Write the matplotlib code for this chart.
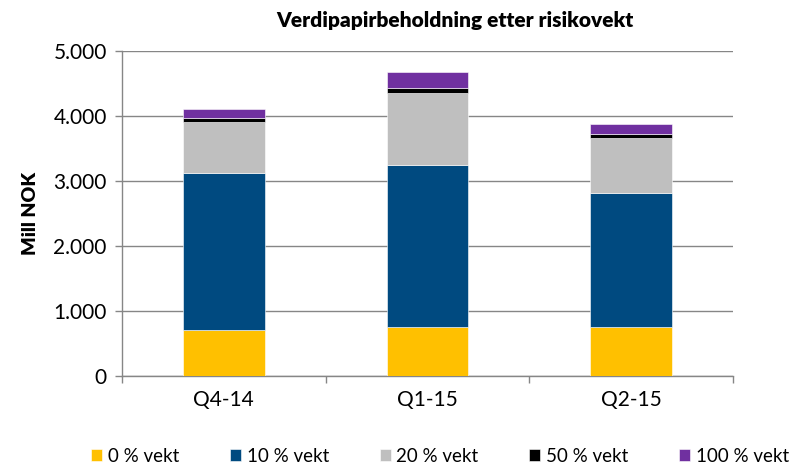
import numpy as np
import matplotlib
matplotlib.use("Agg")
import matplotlib.pyplot as plt
from matplotlib.ticker import FuncFormatter, FixedLocator

plt.rcParams['font.family'] = ['Lato', 'DejaVu Sans']

quarters = ["Q4-14", "Q1-15", "Q2-15"]
vekt_0 = [702, 753, 753]
vekt_10 = [2420, 2493, 2066]
vekt_20 = [779, 1113, 835]
vekt_50 = [67, 72, 66]
vekt_100 = [139, 243, 150]

series = [
    ("0 % vekt", vekt_0, "#FFC000"),
    ("10 % vekt", vekt_10, "#004A80"),
    ("20 % vekt", vekt_20, "#BFBFBF"),
    ("50 % vekt", vekt_50, "#000000"),
    ("100 % vekt", vekt_100, "#7030A0"),
]

fig = plt.figure(figsize=(7.97, 4.65), dpi=100)
ax = fig.add_axes([122 / 797, 1 - 376 / 465, 611 / 797, 325 / 465])

x = np.arange(len(quarters))
bottom = np.zeros(len(quarters))
for name, vals, col in series:
    ax.bar(x, vals, width=0.4, bottom=bottom, color=col, label=name,
           edgecolor="white", linewidth=0.4, zorder=3)
    bottom += np.array(vals)

ax.set_xlim(-0.5, 2.5)
ax.set_ylim(0, 5000)
ax.set_yticks(np.arange(0, 5001, 1000))
ax.yaxis.set_major_formatter(FuncFormatter(lambda v, p: f"{int(v):,}".replace(",", ".")))
ax.set_xticks(x)
ax.set_xticklabels(quarters)
ax.xaxis.set_minor_locator(FixedLocator([-0.5, 0.5, 1.5, 2.5]))
ax.tick_params(axis="x", which="major", length=0, labelsize=15, pad=10)
ax.tick_params(axis="x", which="minor", length=5, color="#868686", width=1)
ax.tick_params(axis="y", length=5, color="#868686", width=1, labelsize=15, pad=6)

ax.grid(axis="y", color="#868686", linewidth=1, zorder=0)
for s in ["top", "right"]:
    ax.spines[s].set_visible(False)
for s in ["left", "bottom"]:
    ax.spines[s].set_color("#868686")
    ax.spines[s].set_linewidth(1)

ax.set_ylabel("Mill NOK", fontsize=14, fontweight="heavy", labelpad=10)
fig.text(455 / 797, 1 - 20 / 465, "Verdipapirbeholdning etter risikovekt",
         ha="center", va="center", fontsize=15, fontweight="heavy")

fig.legend(loc="center", bbox_to_anchor=(440 / 797, 1 - 456 / 465), ncol=5,
           frameon=False, fontsize=13.5, handlelength=0.6, handleheight=0.6,
           handletextpad=0.3, columnspacing=2.7)

fig.savefig("out.png", dpi=100)
